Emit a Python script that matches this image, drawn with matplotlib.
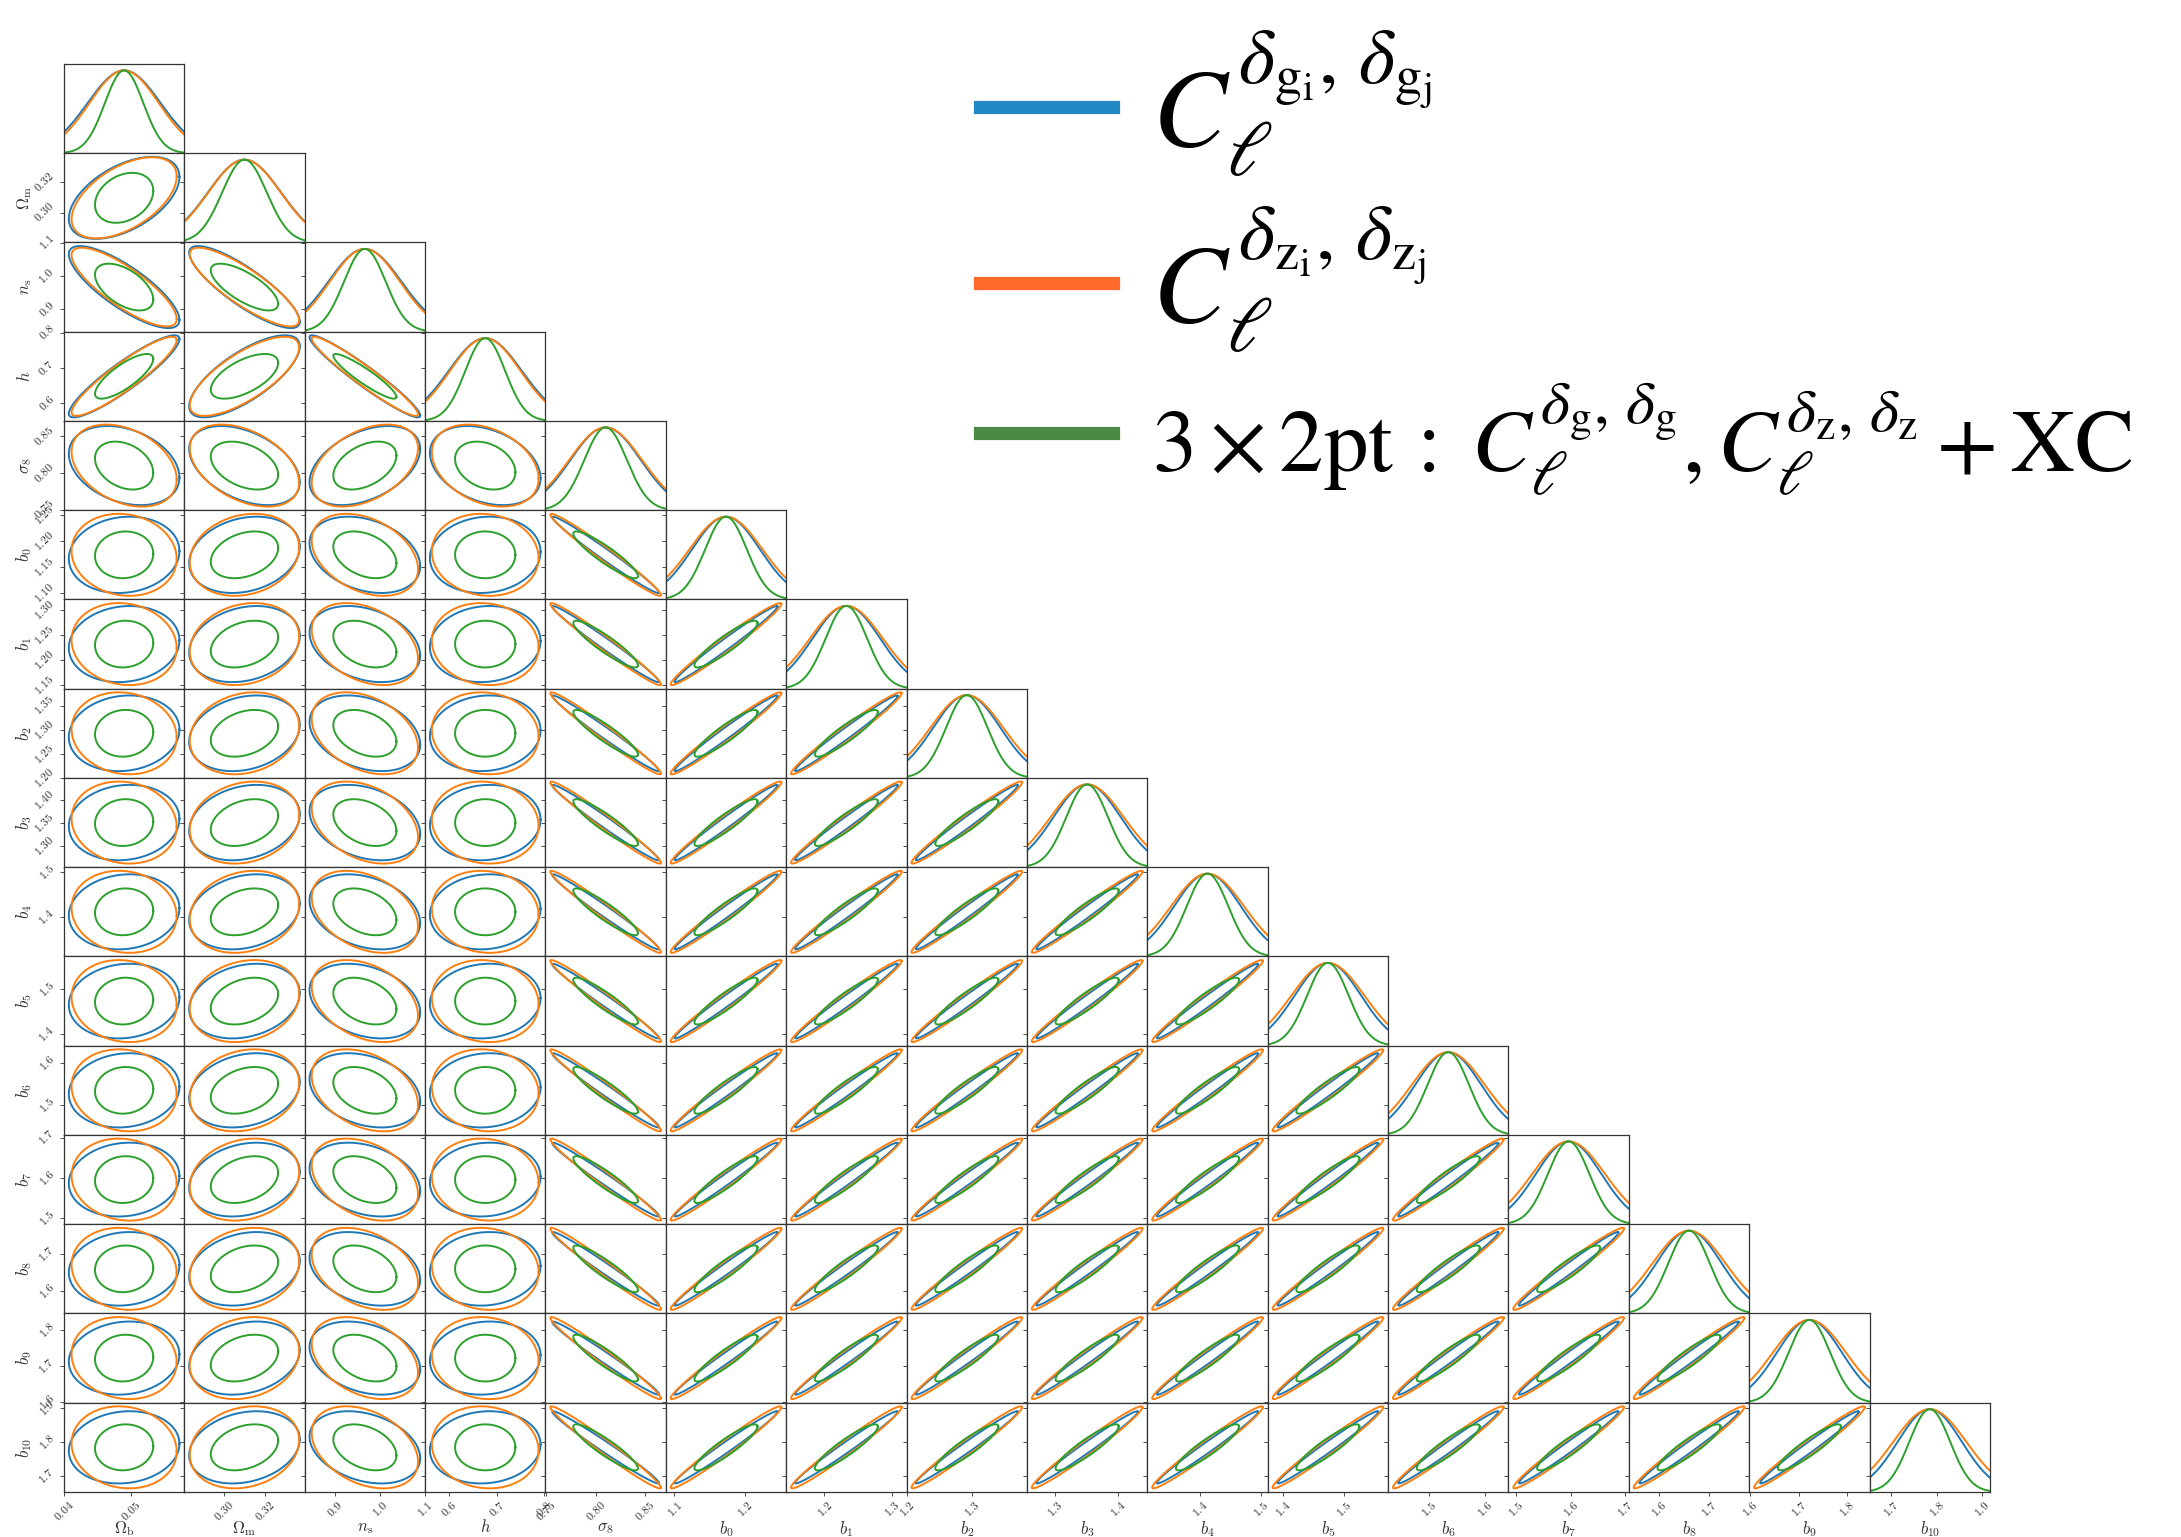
import numpy as np
import matplotlib.pyplot as plt
from matplotlib.lines import Line2D
from matplotlib.font_manager import FontProperties

plt.rcParams['mathtext.fontset'] = 'cm'
plt.rcParams['font.family'] = ['DejaVu Serif']

# parameters: 5 cosmological + 11 galaxy bias values
names = [r'\Omega_{\rm b}', r'\Omega_{\rm m}', r'n_{\rm s}', r'h', r'\sigma_8',
         r'b_0', r'b_1', r'b_2', r'b_3', r'b_4', r'b_5', r'b_6', r'b_7', r'b_8', r'b_9', r'b_{10}']
fiducial = [0.049, 0.3098, 0.9662, 0.676, 0.81,
            1.1733, 1.2324, 1.2927, 1.3507, 1.4119, 1.473, 1.535, 1.596, 1.66, 1.722, 1.7845]

# marginal 1-sigma errors for each probe combination
sigma_gg = [0.00545, 0.0179, 0.0812, 0.0767, 0.0355,
            0.0483, 0.0500, 0.0518, 0.0535, 0.0550, 0.0546, 0.0590, 0.0603, 0.0652, 0.0673, 0.0707]
sigma_zz = [0.00518, 0.0177, 0.0780, 0.0740, 0.0368,
            0.0519, 0.0539, 0.0561, 0.0582, 0.0601, 0.0600, 0.0652, 0.0670, 0.0727, 0.0755, 0.0803]
sigma_3x2 = [0.00287, 0.0109, 0.0463, 0.0418, 0.0215,
             0.0296, 0.0307, 0.0320, 0.0332, 0.0343, 0.0342, 0.0371, 0.0382, 0.0414, 0.0430, 0.0450]

# correlation coefficients between cosmological parameters
cosmo_pairs = [(0, 1), (0, 2), (0, 3), (0, 4), (1, 2), (1, 3), (1, 4), (2, 3), (2, 4), (3, 4)]
rho_cosmo_gg = [0.51, -0.80, 0.91, -0.30, -0.84, 0.73, -0.42, -0.955, 0.42, -0.32]
rho_cosmo_zz = [0.53, -0.81, 0.91, -0.34, -0.84, 0.73, -0.42, -0.955, 0.42, -0.32]
rho_cosmo_3x2 = [0.28, -0.53, 0.78, -0.30, -0.72, 0.60, -0.38, -0.92, 0.42, -0.28]

# correlation of (Ob, Om, ns, h, s8) with any bias, and between two biases
rho_cb_gg = [0.10, 0.22, -0.30, 0.08, -0.985]
rho_cb_zz = [-0.10, 0.18, -0.35, -0.08, -0.98]
rho_cb_3x2 = [0.05, 0.30, -0.35, 0.0, -0.91]
rho_bb_gg = 0.985
rho_bb_zz = 0.978
rho_bb_3x2 = 0.91

xtick_labels = [['0.04', '0.05'], ['0.30', '0.32'], ['0.9', '1.0', '1.1'], ['0.6', '0.7', '0.8'],
                ['0.75', '0.80', '0.85'], ['1.1', '1.2'], ['1.2', '1.3'], ['1.2', '1.3'],
                ['1.3', '1.4'], ['1.4', '1.5'], ['1.4', '1.5'], ['1.5', '1.6'],
                ['1.5', '1.6', '1.7'], ['1.6', '1.7'], ['1.6', '1.7', '1.8'], ['1.7', '1.8', '1.9']]
ytick_labels = [[], ['0.30', '0.32'], ['0.9', '1.0', '1.1'], ['0.6', '0.7', '0.8'],
                ['0.75', '0.80', '0.85'], ['1.10', '1.15', '1.20', '1.25'],
                ['1.15', '1.20', '1.25', '1.30'], ['1.20', '1.25', '1.30', '1.35'],
                ['1.30', '1.35', '1.40'], ['1.4', '1.5'], ['1.4', '1.5'], ['1.5', '1.6'],
                ['1.5', '1.6', '1.7'], ['1.6', '1.7'], ['1.6', '1.7', '1.8'], ['1.7', '1.8', '1.9']]

legend_labels = [r'$C_\ell^{\delta_{\mathrm{g_i}},\,\delta_{\mathrm{g_j}}}$',
                 r'$C_\ell^{\delta_{\mathrm{z_i}},\,\delta_{\mathrm{z_j}}}$',
                 r'$3\times 2\mathrm{pt}\,:\;C_\ell^{\delta_\mathrm{g},\,\delta_\mathrm{g}},'
                 r'C_\ell^{\delta_\mathrm{z},\,\delta_\mathrm{z}}+\mathrm{XC}$']
line_colors = ['#1f77b4', '#ff7f0e', '#2ca02c']
legend_colors = ['#2389c5', '#ff6a2b', '#4b8a45']

probes = [
    (sigma_gg, rho_cosmo_gg, rho_cb_gg, rho_bb_gg),
    (sigma_zz, rho_cosmo_zz, rho_cb_zz, rho_bb_zz),
    (sigma_3x2, rho_cosmo_3x2, rho_cb_3x2, rho_bb_3x2),
]
n = len(names)
n_cosmo = 5


def corr(probe, i, j):
    _, rc, rcb, rbb = probe
    if i < n_cosmo and j < n_cosmo:
        k = cosmo_pairs.index((min(i, j), max(i, j)))
        return rc[k]
    if i >= n_cosmo and j >= n_cosmo:
        return rbb
    return rcb[min(i, j)]


# plot range: fiducial +- 1.65 of the widest error
lims = []
for k in range(n):
    half = 1.65 * max(p[0][k] for p in probes)
    lims.append((fiducial[k] - half, fiducial[k] + half))

tt = np.linspace(0, 2 * np.pi, 300)
circle = np.vstack([np.cos(tt), np.sin(tt)])
chi2_68 = 2.30

fig, axes = plt.subplots(n, n, figsize=(21.81, 15.37), dpi=100)
fig.subplots_adjust(left=0.0293, right=0.9124, bottom=0.0293, top=0.9584, wspace=0, hspace=0)

for i in range(n):
    for j in range(n):
        ax = axes[i, j]
        if j > i:
            ax.remove()
            continue
        for sp in ax.spines.values():
            sp.set_linewidth(0.9)
            sp.set_color('#333333')
        ax.tick_params(direction='out', length=3, width=0.6, labelsize=8.5, pad=2,
                       colors='#333333')
        ax.set_xlim(lims[j])
        ax.set_xticks([float(s) for s in xtick_labels[j]])
        if i == n - 1:
            ax.set_xticklabels(['$%s$' % s for s in xtick_labels[j]], rotation=45, ha='center')
            ax.set_xlabel('$%s$' % names[j], fontsize=12, color='#333333')
            ax.xaxis.set_label_coords(0.5, -0.30)
        else:
            ax.tick_params(labelbottom=False)

        if i == j:
            # 1D marginal
            ax.set_ylim(lims[i])
            ax.set_yticks([float(s) for s in ytick_labels[i]])
            ax.tick_params(labelleft=False)
            x = np.linspace(lims[i][0], lims[i][1], 400)
            for p, c in zip(probes, line_colors):
                g = np.exp(-0.5 * ((x - fiducial[i]) / p[0][i]) ** 2)
                ax.plot(x, g / 1.078, color=c, lw=1.4, transform=ax.get_xaxis_transform())
            continue

        ax.set_ylim(lims[i])
        ax.set_yticks([float(s) for s in ytick_labels[i]])
        if j == 0:
            ax.set_yticklabels(['$%s$' % s for s in ytick_labels[i]], rotation=45, va='center')
            ax.set_ylabel('$%s$' % names[i], fontsize=12, color='#333333')
            ax.yaxis.set_label_coords(-0.25, 0.5)
        else:
            ax.tick_params(labelleft=False)

        # 2D 68% contours from the Fisher covariance
        for p, c in zip(probes, line_colors):
            sx, sy = p[0][j], p[0][i]
            r = corr(p, i, j)
            cov = np.array([[sx * sx, r * sx * sy], [r * sx * sy, sy * sy]])
            L = np.linalg.cholesky(cov)
            pts = np.sqrt(chi2_68) * L @ circle
            ax.plot(fiducial[j] + pts[0], fiducial[i] + pts[1], color=c, lw=1.4)

handles = [Line2D([], [], color=c, lw=9.5) for c in legend_colors]
leg = fig.legend(handles, legend_labels, loc='upper left',
                 bbox_to_anchor=(980 / 2181, 1 - 28 / 1537), frameon=False,
                 prop=FontProperties(family='DejaVu Serif', size=80, math_fontfamily='stix'),
                 handlelength=1.2, handletextpad=0.35, labelspacing=0.22,
                 borderpad=0, borderaxespad=0)
leg.get_texts()[2].set_fontsize(64)

fig.savefig('out.png', dpi=100)
